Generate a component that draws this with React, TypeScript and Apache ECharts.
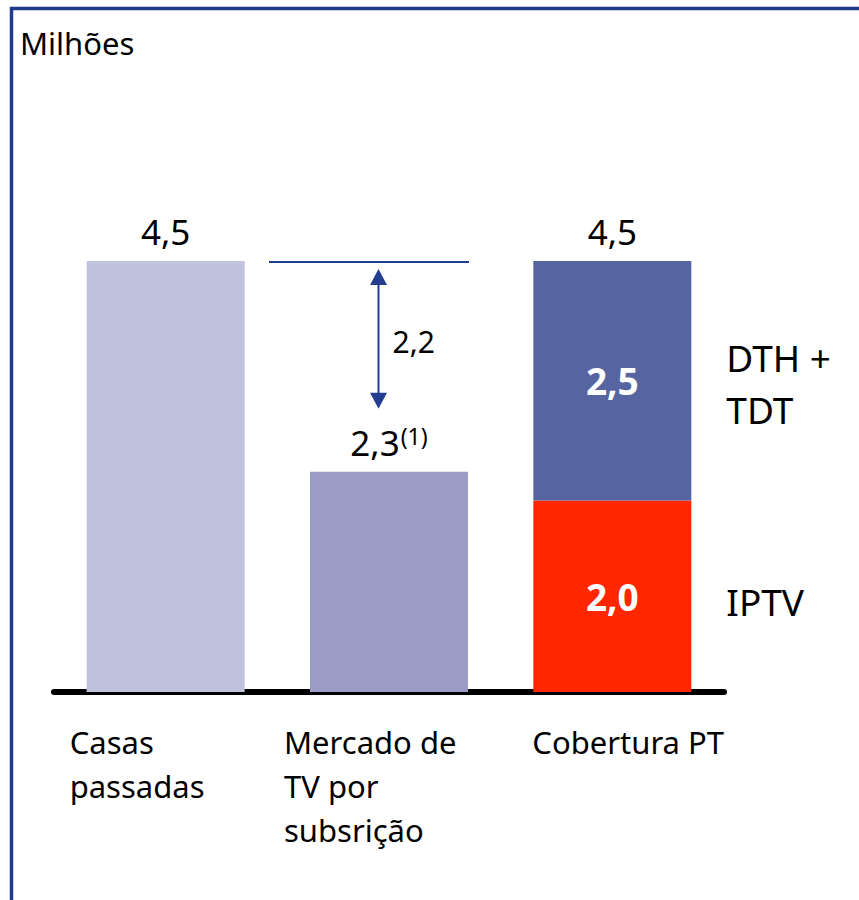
import React, { useEffect, useRef } from "react";
import * as echarts from "echarts";

// ---- data ----
const categories = ["Casas\npassadas", "Mercado de\nTV por\nsubsrição", "Cobertura PT"];
const baseValues: (number | null)[] = [4.5, 2.3, null];
const iptvValues: (number | null)[] = [null, null, 2.0];
const dthValues: (number | null)[] = [null, null, 2.5];
const seriesNames = ["IPTV", "DTH +\nTDT"];
const unitLabel = "Milhões";
const footnote = "(1)";

// ---- styles / layout ----
const FONT = "'Noto Sans', 'Open Sans', sans-serif";
const BASE_COLORS = ["#c0c2de", "#9a9cc5"];
const IPTV_COLOR = "#ff2600";
const DTH_COLOR = "#5665a1";
const FRAME_COLOR = "#1f3a8c";
const ANNOT_COLOR = "#233d8f";
const CAT_LABEL_OFFSETS = [-96, -105, -80];

const fmt = (v: number) => v.toFixed(1).replace(".", ",");

export default function App() {
  const ref = useRef<HTMLDivElement>(null);

  useEffect(() => {
    const el = ref.current;
    if (!el) return;
    const chart = echarts.init(el, null, { renderer: "svg" });
    const total = (iptvValues[2] ?? 0) + (dthValues[2] ?? 0);

    chart.setOption({
      animation: false,
      textStyle: { fontFamily: FONT },
      grid: { left: 54, right: 135, top: 261, bottom: 208 },
      xAxis: {
        type: "category",
        data: categories,
        offset: 3.5,
        axisLine: { lineStyle: { color: "#000", width: 6, cap: "round" } },
        axisTick: { show: false },
        axisLabel: { show: false },
      },
      yAxis: { type: "value", min: 0, max: 4.5, show: false },
      series: [
        {
          name: "Base",
          type: "bar",
          stack: "a",
          barWidth: 158,
          data: baseValues.map((v, i) =>
            v == null ? "-" : { value: v, itemStyle: { color: BASE_COLORS[i] } }
          ),
          label: {
            show: true,
            position: "top",
            distance: 12,
            color: "#000",
            fontSize: 35,
            fontFamily: FONT,
            formatter: (p: any) =>
              p.dataIndex === 1 ? `{v|${fmt(p.value)}}{s|${footnote}}` : fmt(p.value),
            rich: {
              v: { fontSize: 35, color: "#000", fontFamily: FONT },
              s: { fontSize: 23, color: "#000", fontFamily: FONT, verticalAlign: "top", padding: [0, 0, 0, 1] },
            },
          },
        },
        {
          name: seriesNames[0],
          type: "bar",
          stack: "a",
          barWidth: 158,
          data: iptvValues.map((v) => (v == null ? "-" : v)),
          itemStyle: { color: IPTV_COLOR },
          label: {
            show: true,
            position: "inside",
            color: "#fff",
            fontSize: 37,
            fontWeight: "bold",
            fontFamily: FONT,
            formatter: (p: any) => fmt(p.value),
          },
        },
        {
          name: seriesNames[1],
          type: "bar",
          stack: "a",
          barWidth: 158,
          data: dthValues.map((v) => (v == null ? "-" : v)),
          itemStyle: { color: DTH_COLOR },
          label: {
            show: true,
            position: "inside",
            color: "#fff",
            fontSize: 37,
            fontWeight: "bold",
            fontFamily: FONT,
            formatter: (p: any) => fmt(p.value),
          },
        },
        {
          name: "Total",
          type: "bar",
          stack: "a",
          barWidth: 158,
          data: ["-", "-", 0],
          itemStyle: { color: "transparent" },
          label: {
            show: true,
            position: "top",
            distance: 12,
            color: "#000",
            fontSize: 35,
            fontFamily: FONT,
            formatter: () => fmt(total),
          },
        },
      ],
    });

    const px = (i: number, v: number) =>
      chart.convertToPixel({ xAxisIndex: 0, yAxisIndex: 0 }, [i, v]) as number[];

    const graphics: any[] = [];
    // frame
    graphics.push({
      type: "line",
      shape: { x1: 10, y1: 8.5, x2: 859, y2: 8.5 },
      style: { stroke: FRAME_COLOR, lineWidth: 3.5 },
    });
    graphics.push({
      type: "line",
      shape: { x1: 11.5, y1: 7, x2: 11.5, y2: 900 },
      style: { stroke: FRAME_COLOR, lineWidth: 3.5 },
    });
    graphics.push({
      type: "text",
      x: 20,
      y: 43,
      style: {
        text: unitLabel,
        fontSize: 31,
        fontFamily: FONT,
        fill: "#000",
        align: "left",
        verticalAlign: "middle",
      },
    });

    // category labels
    categories.forEach((c, i) => {
      const [cx] = px(i, 0);
      graphics.push({
        type: "text",
        x: cx + CAT_LABEL_OFFSETS[i],
        y: 720,
        style: {
          text: c,
          fontSize: 31,
          lineHeight: 44,
          fontFamily: FONT,
          fill: "#000",
          align: "left",
          verticalAlign: "top",
        },
      });
    });

    // gap annotation between category 0 and 1
    const maxV = baseValues[0] as number;
    const midV = baseValues[1] as number;
    const [c1x, yTop] = px(1, maxV);
    const [, yMid] = px(1, midV);
    graphics.push({
      type: "line",
      shape: { x1: c1x - 120, y1: yTop + 1, x2: c1x + 80, y2: yTop + 1 },
      style: { stroke: ANNOT_COLOR, lineWidth: 2 },
    });
    const ax = c1x - 10.5;
    const tipTop = yTop + 8;
    const tipBot = yMid - 63;
    graphics.push({
      type: "line",
      shape: { x1: ax, y1: tipTop + 10, x2: ax, y2: tipBot - 10 },
      style: { stroke: ANNOT_COLOR, lineWidth: 2 },
    });
    graphics.push({
      type: "polygon",
      shape: { points: [[ax, tipTop], [ax - 8.5, tipTop + 16], [ax + 8.5, tipTop + 16]] },
      style: { fill: ANNOT_COLOR },
    });
    graphics.push({
      type: "polygon",
      shape: { points: [[ax, tipBot], [ax - 8.5, tipBot - 16], [ax + 8.5, tipBot - 16]] },
      style: { fill: ANNOT_COLOR },
    });
    graphics.push({
      type: "text",
      x: ax + 14,
      y: (tipTop + tipBot) / 2 + 3,
      style: {
        text: fmt(maxV - midV),
        fontSize: 30,
        fontFamily: FONT,
        fill: "#000",
        align: "left",
        verticalAlign: "middle",
      },
    });

    // series names to the right of the stacked bar
    const [c2x, y0] = px(2, 0);
    const iptv = iptvValues[2] as number;
    const dth = dthValues[2] as number;
    const [, yI] = px(2, iptv);
    const [, yT] = px(2, iptv + dth);
    const rx = c2x + 79 + 35;
    graphics.push({
      type: "text",
      x: rx,
      y: (yI + yT) / 2 + 3,
      style: {
        text: seriesNames[1],
        fontSize: 37,
        lineHeight: 52,
        fontFamily: FONT,
        fill: "#000",
        align: "left",
        verticalAlign: "middle",
      },
    });
    graphics.push({
      type: "text",
      x: rx,
      y: (y0 + yI) / 2 + 5,
      style: {
        text: seriesNames[0],
        fontSize: 37,
        fontFamily: FONT,
        fill: "#000",
        align: "left",
        verticalAlign: "middle",
      },
    });

    chart.setOption({ graphic: graphics });

    return () => chart.dispose();
  }, []);

  return (
    <div
      ref={ref}
      style={{ position: "absolute", left: 0, top: 0, width: 859, height: 900, background: "#fff" }}
    />
  );
}
